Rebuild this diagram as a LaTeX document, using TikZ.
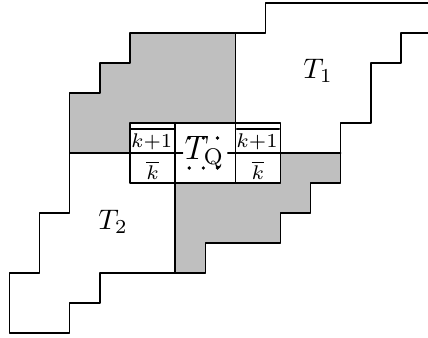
\documentclass[tikz,border=0pt]{standalone}
\begin{document}
\begin{tikzpicture}[x=0.374cm,y=0.3727cm,line cap=round,line join=round,
  edge/.style={line width=0.5pt},
  shaded/.style={fill=black!25},
  small/.style={font=\fontsize{7.5}{9}\selectfont,inner sep=0pt}]
  \useasboundingbox (-0.316,-0.133) rectangle (13.9,11.1);
  % grey parts
  \fill[shaded] (2,6) -- (2,8) -- (3,8) -- (3,9) -- (4,9) -- (4,10) -- (7.5,10) -- (7.5,7) -- (4,7) -- (4,6) -- cycle;
  \fill[shaded] (5.5,2) -- (6.5,2) -- (6.5,3) -- (9,3) -- (9,4) -- (10,4) -- (10,5) -- (11,5) -- (11,6) -- (9,6) -- (9,5) -- (5.5,5) -- cycle;
  % outer staircase
  \draw[edge] (13.9,11) -- (8.5,11) -- (8.5,10) -- (4,10) -- (4,9) -- (3,9) -- (3,8) -- (2,8) -- (2,4) -- (1,4) -- (1,2) -- (0,2) -- (0,0)
    -- (2,0) -- (2,1) -- (3,1) -- (3,2) -- (6.5,2) -- (6.5,3) -- (9,3) -- (9,4) -- (10,4) -- (10,5) -- (11,5) -- (11,7) -- (12,7) -- (12,9)
    -- (13,9) -- (13,10) -- (13.9,10);
  % inner cuts
  \draw[edge] (2,6) -- (5.75,6);
  \draw[edge] (7.25,6) -- (11,6);
  \draw[edge] (7.5,10) -- (7.5,5);
  \draw[edge] (5.5,7) -- (5.5,2);
  \draw[edge] (4,5) rectangle (9,7);
  \draw[line width=0.8pt] (4.05,6.8) -- (5.45,6.8);
  \draw[line width=0.8pt] (7.55,6.8) -- (8.95,6.8);
  % labels
  \node[small] (ktl) at (4.72,6.37) {$k{+}1$};
  \node[small] (kbl) at (4.75,5.43) {$\overline{k}$};
  \node[small] (ktr) at (8.22,6.37) {$k{+}1$};
  \node[small] (kbr) at (8.25,5.43) {$\overline{k}$};
  \node[inner sep=0pt] (tq) at (6.47,6) {\large $T_{\mathrm{Q}}$};
  \foreach \x in {5.97,6.44,6.91}
    \foreach \y in {5.5,6.5}
      \fill (\x,\y) circle (0.65pt);
  \node[inner sep=0pt] (t1) at (10.25,8.73) {$T_1$};
  \node[inner sep=0pt] (t2) at (3.44,3.71) {$T_2$};
\end{tikzpicture}
\end{document}
